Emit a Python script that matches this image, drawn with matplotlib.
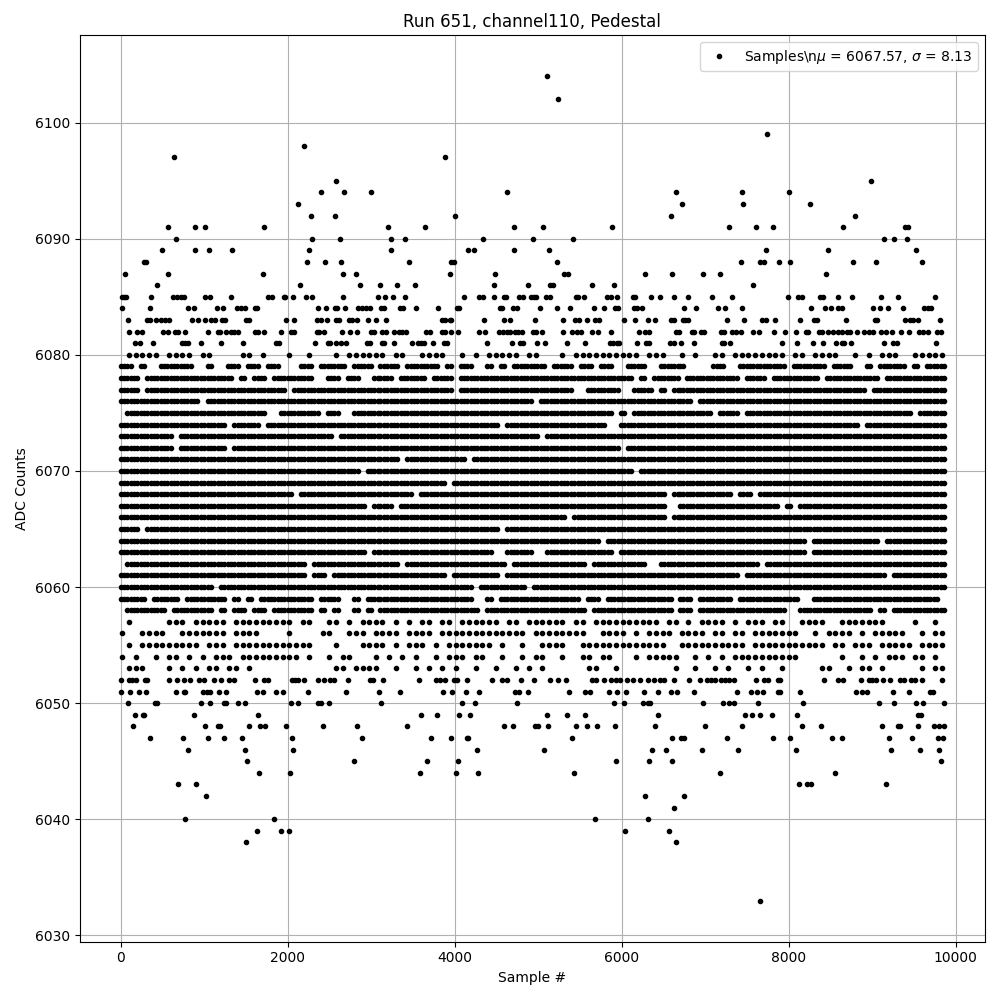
import matplotlib
matplotlib.use('Agg')
import matplotlib.pyplot as plt

# rows with few samples, sample numbers
sparse_top = {
    6104: [5112],
    6102: [5244],
    6099: [7736],
    6098: [2192],
    6097: [644, 3888],
    6095: [2576, 8984],
    6094: [2396, 2672, 2996, 4632, 6648, 7448, 8000],
    6093: [2120, 6728, 7460, 8252],
    6092: [2276, 2564, 4008, 6588, 8792],
    6091: [572, 896, 1004, 1712, 3204, 3648, 4716, 5064, 5880, 7292, 7604, 7808, 8648, 9392, 9428],
    6090: [668, 2288, 2624, 3240, 3408, 4344, 4944, 5412, 9140, 9260, 9416],
    6089: [500, 896, 1052, 1328, 2252, 3240, 4164, 4236, 4716, 5136, 7724, 8468, 9524],
    6088: [280, 300, 2228, 2444, 2636, 3456, 3960, 3996, 5232, 7436, 7652, 7700, 7880, 8012, 8768, 9044, 9596],
    6087: [56, 572, 1700, 2660, 2816, 3948, 4488, 5316, 5364, 6276, 6600, 6980, 7184, 8444],
    6086: [440, 2144, 2864, 3112, 3312, 3528, 4476, 4884, 5148, 5184, 5640, 5904, 7580],
    6085: [20, 44, 68, 368, 632, 680, 728, 764, 1004, 1064, 1316, 1760, 1808, 1952, 1968, 2060, 2216,
           2288, 2660, 3080, 3168, 3264, 3408, 4116, 4296, 4344, 4476, 4596, 4620, 4776, 4824, 4920,
           4956, 4980, 5100, 5148, 5448, 5472, 5544, 5820, 5868, 5940, 6132, 6156, 6348, 6456, 6624,
           6800, 7088, 7328, 7988, 8108, 8156, 8372, 8408, 8588, 8756, 9104, 9308, 9752],
    6084: [20, 356, 812, 884, 1148, 1220, 1388, 1436, 1484, 1604, 1628, 2360, 2456, 2564, 2588, 2684,
           2840, 2888, 2936, 2984, 3120, 3156, 3348, 3384, 3540, 3804, 4032, 4056, 4548, 4572, 4704,
           4752, 5028, 5232, 5388, 5664, 5784, 5916, 5952, 6144, 6180, 6240, 6752, 6896, 7160, 7244,
           7448, 8264, 8432, 8504, 8588, 8636, 9008, 9092, 9188, 9368, 9620, 9668, 9704],
    6083: [92, 320, 356, 428, 480, 536, 584, 860, 932, 1004, 1076, 1124, 1208, 1244, 1496, 1532, 1976,
           2072, 2348, 2396, 2468, 2576, 2612, 2732, 2768, 2828, 2960, 3056, 3180, 3852, 3888, 3948,
           3960, 4356, 4596, 4668, 4968, 5304, 5436, 5484, 5580, 5676, 5724, 6024, 6156, 6312, 6396,
           6588, 6624, 6740, 6764, 6800, 7268, 7472, 7676, 7724, 7832, 8132, 8300, 8336, 8684, 9032,
           9056, 9392, 9452, 9488, 9548, 9812],
    6082: [104, 200, 260, 512, 572, 656, 692, 776, 1040, 1160, 1184, 1256, 1316, 1352, 1400, 1604, 1640,
           1712, 1916, 2036, 2072, 2348, 2372, 2432, 2648, 2744, 2828, 2996, 3032, 3132, 3180, 3276,
           3336, 3372, 3420, 3660, 3708, 3852, 3888, 3960, 4044, 4296, 4368, 4536, 4584, 4632, 4668,
           4728, 4764, 4812, 4944, 4980, 5052, 5304, 5400, 5460, 5516, 5640, 5712, 5868, 6204, 6284,
           6332, 6648, 6692, 6848, 6872, 6956, 6992, 7196, 7232, 7328, 7376, 7436, 7580, 7640, 7820,
           7952, 8084, 8204, 8228, 8360, 8396, 8468, 8528, 8588, 8636, 8696, 8732, 8816, 8900, 8960,
           9008, 9104, 9164, 9236, 9344, 9440, 9560, 9608, 9668, 9776, 9824],
    6081: [176, 236, 392, 740, 776, 812, 968, 1196, 1460, 1856, 1892, 2324, 2480, 2504, 2576, 2636, 2696,
           2948, 2984, 3132, 3156, 3276, 3492, 3564, 3600, 3636, 3744, 3876, 3912, 4392, 4692, 4788,
           4824, 4992, 5088, 5352, 5556, 5856, 5892, 5940, 5964, 6180, 6288, 6324, 6584, 6632, 6716,
           6872, 7208, 7232, 7304, 7916, 8096, 8288, 8408, 8564, 8636, 8660, 8744, 9140, 9248, 9296,
           9764],
}

sparse_bottom = {
    6052: [8, 104, 140, 188, 296, 320, 584, 680, 764, 836, 944, 992, 1112, 1196, 1292, 1352, 1604, 1712,
           1760, 2048, 2084, 2120, 2192, 2360, 2432, 2504, 2552, 2720, 2984, 3020, 3144, 3576, 3780,
           3828, 3888, 3996, 4032, 4152, 4452, 4572, 4632, 4800, 4956, 5148, 5244, 5340, 5640, 5688,
           5784, 5868, 5928, 5976, 6060, 6132, 6216, 6312, 6384, 6456, 6504, 6624, 6812, 6944, 7028,
           7076, 7124, 7196, 7244, 7292, 7352, 7604, 7700, 7748, 7868, 7892, 8420, 8588, 8648, 8864,
           8960, 8996, 9044, 9128, 9212, 9332, 9380, 9464, 9512, 9596, 9836],
    6051: [8, 116, 224, 308, 668, 764, 776, 980, 1028, 1064, 1172, 1256, 1628, 1700, 1856, 1940, 2240,
           2696, 3092, 3348, 3864, 3972, 4140, 4296, 4728, 4776, 4884, 5376, 5556, 5616, 5844, 5940,
           6048, 6264, 6432, 6588, 6660, 6872, 7388, 7556, 7616, 7688, 7868, 7892, 8132, 8804, 8876,
           8936, 9248, 9440, 9692, 9728],
    6050: [92, 416, 440, 968, 1064, 1232, 1256, 1400, 1484, 2036, 2120, 2360, 2396, 2492, 3120, 4092,
           4248, 4752, 5904, 6024, 6252, 6312, 6336, 6980, 7220, 7292, 7352, 7628, 8168, 9080, 9260,
           9524, 9608, 9860],
    6049: [176, 272, 284, 884, 1640, 3600, 3792, 4056, 4188, 5112, 5352, 5556, 6432, 7484, 7568, 7652,
           7796, 8096, 9548, 9584],
    6048: [152, 1004, 1160, 1184, 1532, 1664, 1724, 1976, 2420, 2828, 3432, 4596, 4704, 4968, 5004, 5124,
           5448, 5580, 5700, 5916, 6396, 7004, 7448, 8156, 8384, 9116, 9308, 9332, 9548, 9740, 9800,
           9860],
    6047: [356, 752, 1040, 1232, 1448, 2048, 2888, 3720, 3960, 4152, 4164, 5400, 6600, 6716, 6752, 7268,
           7808, 8012, 8516, 8636, 9200, 9476, 9788, 9848],
    6046: [812, 1484, 2060, 4272, 5076, 6360, 6528, 6968, 7400, 8084, 9224, 9572, 9800],
    6045: [1508, 2792, 3672, 4044, 5928, 6324, 6600, 9824],
    6044: [1652, 2024, 3588, 4020, 4284, 5424, 7184, 8552],
    6043: [692, 908, 8120, 8216, 8264, 9164],
    6042: [1016, 6276, 6752],
    6041: [6624],
    6040: [776, 1832, 5676, 6312],
    6039: [1628, 1916, 2012, 6036, 6564],
    6038: [1496, 6648],
    6033: [7652],
}

# dense rows 6080 down to 6053, one string per plot region, '#' = samples drawn in that 80 wide slot
mask_levels = [6080, 6079, 6078, 6077, 6076, 6075, 6074, 6073, 6072, 6071, 6070, 6069, 6068, 6067,
               6066, 6065, 6064, 6063, 6062, 6061, 6060, 6059, 6058, 6057, 6056, 6055, 6054, 6053]

# these rows have single samples in a slot, the others two
single_levels = [6080, 6057, 6056, 6055, 6054, 6053]

mask_left = [
    ".#####.####.##....##.#...#..#...#.#####",
    "##.#..#####..#..##.##.##...##.####.###.",
    "###.#############.#.##.######..##.##..#",
    "###.#####################.#############",
    "############.##########################",
    ".#####################..######.##..####",
    "################.####.#################",
    "########.#######################.######",
    "########.#######.######################",
    "#######################################",
    "####################################.##",
    "#######################################",
    "##########################.############",
    "#####################################.#",
    "#######################################",
    "###.###################################",
    "#######################################",
    "#####################################.#",
    ".###########################.##########",
    "############################.##.#######",
    "##############.########################",
    "####.####.######.#.#.########.###..#.##",
    ".######.######.#.##.##.######.#.#..#.#.",
    ".#.....###.#####.#########.##..##.#.###",
    "#..####..#######.####....#....##..###.#",
    ".#.#########.###.############...#...###",
    "#.#..#.##.#.#.###.#########.#..#.##...#",
    ".###...#.#.#.##.##.#............##.####",
]

mask_mid = [
    "#.##..####..#.#.#####.##...#.##########.###..",
    "###.#####.#.##..#.#.#####.###.##.##..###..###",
    "##.####.###.##########################.#.####",
    "###########.#################..#####..###.#.#",
    "#######################.#####################",
    "###################################.#.#######",
    "##################.###############..#########",
    "########################.####################",
    "####################################.########",
    "###.#########.###############################",
    "######################################.######",
    "##########.##################################",
    "#####.#####################################.#",
    "##.########################################..",
    "############################.##############.#",
    "##################.##########################",
    "#################################.###########",
    "#################..####..##########.#########",
    "###.###############.###########.########..###",
    "##########.#######.##########################",
    "##############.#######.######################",
    "##############..#.############.##.##########.",
    "###############.###############.############.",
    "#.#.#.##.##.######.##.######.##.##########.##",
    "###.####.#############.########..####.#.####.",
    "#.#.###.#.#######.#..#..####..#############..",
    ".#.#.#..#.###.##..#..#.##..#..##.##...#.#####",
    "..#..#.#.#.#..#..#..#.#.#......##..#........#",
]

mask_right = [
    "#.#..##.########.##.####..#.#.###..#####",
    "#....##..#######.#####.###..#.####.#.###",
    ".########.###.#######.########.#########",
    "############################.###########",
    "##.#####################################",
    "#####.###.#########################.####",
    "###########################.############",
    "########################################",
    "########################################",
    "########################################",
    "########################################",
    "########################################",
    "########.##.############################",
    "###############.#.######################",
    "########################################",
    "########################################",
    "###################.##########.#########",
    "###################.####################",
    "############.###########################",
    "#########.#####################.########",
    "########################################",
    "##.#####.#########..###################.",
    "##.#############..###########.#.########",
    ".#.####.#.###.##..####..#######....#..#.",
    "####.##.##.#######..#.####.#.#####..#.##",
    "##########.###########.##.###.#####.####",
    "..#.#.#.##########......#..#.#.###.##.#.",
    "..#..#.#..#.#..#.....##..#.##.#.....#.##",
]

slot_width = 80
region_start = [0, 3112, 6700]

samples = []
counts = []

for sparse in [sparse_top, sparse_bottom]:
    for level, xs in sparse.items():
        samples.extend(xs)
        counts.extend([level] * len(xs))

for start, masks in zip(region_start, [mask_left, mask_mid, mask_right]):
    for level, row in zip(mask_levels, masks):
        for i, c in enumerate(row):
            if c != '#':
                continue
            x = start + i * slot_width
            if level in single_levels:
                samples.append(x + 20)
                counts.append(level)
            else:
                samples.extend([x, x + 40])
                counts.extend([level, level])

plt.figure(figsize=(10, 10))
plt.plot(samples, counts, 'k.', label='Samples\\n$\\mu$ = 6067.57, $\\sigma$ = 8.13')
plt.title('Run 651, channel110, Pedestal')
plt.xlabel('Sample #')
plt.ylabel('ADC Counts')
plt.legend(loc='upper right')
plt.grid(True)
plt.tight_layout()
plt.subplots_adjust(top=0.965)
plt.savefig('out.png', dpi=100)
